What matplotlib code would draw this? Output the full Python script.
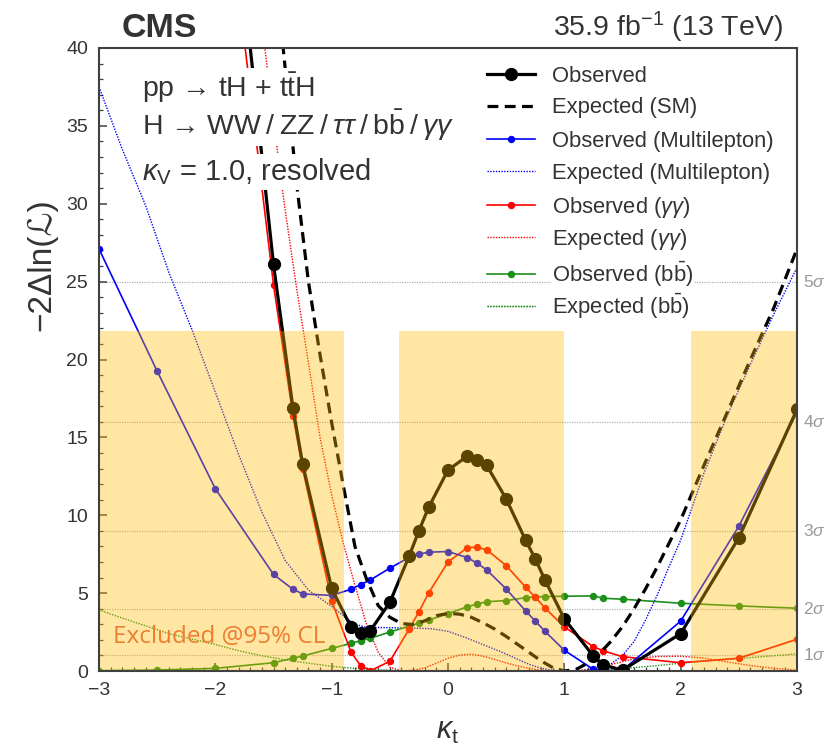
import matplotlib
matplotlib.use('Agg')
import matplotlib.pyplot as plt
from matplotlib.ticker import MultipleLocator

plt.rcParams['font.family'] = ['Liberation Sans', 'DejaVu Sans']
plt.rcParams['mathtext.fontset'] = 'custom'
plt.rcParams['mathtext.rm'] = 'Liberation Sans'
plt.rcParams['mathtext.it'] = 'Liberation Sans:italic'
plt.rcParams['mathtext.bf'] = 'Liberation Sans:bold'

# observed scans (points with markers)
obs_k = [-1.75, -1.5, -1.333, -1.25, -1.0, -0.833, -0.75, -0.667, -0.5, -0.333, -0.25, -0.167,
         0.0, 0.167, 0.25, 0.333, 0.5, 0.667, 0.75, 0.833, 1.0, 1.25, 1.333, 1.5, 2.0, 2.5, 3.0]
obs_v = [43.5, 26.1, 16.9, 13.3, 5.3, 2.8, 2.45, 2.6, 4.4, 7.4, 9.0, 10.5,
         12.9, 13.8, 13.55, 13.2, 11.05, 8.4, 7.2, 5.85, 3.35, 0.95, 0.4, 0.05, 2.4, 8.55, 16.8]

ml_k = [-3.0, -2.5, -2.0, -1.5, -1.333, -1.25, -1.0, -0.833, -0.75, -0.667, -0.5, -0.333, -0.25,
        -0.167, 0.0, 0.167, 0.25, 0.333, 0.5, 0.667, 0.75, 0.833, 1.0, 1.25, 1.333, 1.5, 2.0, 2.5, 3.0]
ml_v = [27.1, 19.25, 11.7, 6.2, 5.25, 4.95, 4.85, 5.25, 5.55, 5.85, 6.6, 7.3, 7.5,
        7.63, 7.67, 7.28, 6.92, 6.49, 5.27, 3.86, 3.21, 2.55, 1.33, 0.1, 0.02, 0.05, 3.2, 9.3, 16.6]

gg_k = [-1.75, -1.5, -1.333, -1.25, -1.0, -0.833, -0.75, -0.667, -0.5, -0.333, -0.25, -0.167,
        0.0, 0.167, 0.25, 0.333, 0.5, 0.667, 0.75, 0.833, 1.0, 1.25, 1.333, 1.5, 2.0, 2.5, 3.0]
gg_v = [40.4, 24.8, 16.4, 13.0, 4.5, 1.2, 0.34, 0.02, 0.62, 2.7, 3.8, 5.0,
        7.0, 7.92, 7.95, 7.78, 6.77, 5.38, 4.74, 4.05, 2.83, 1.56, 1.3, 0.92, 0.53, 0.82, 2.04]

bb_k = [-3.0, -2.5, -2.0, -1.5, -1.333, -1.25, -1.0, -0.833, -0.75, -0.667, -0.5, -0.333, -0.25,
        -0.167, 0.0, 0.167, 0.25, 0.333, 0.5, 0.667, 0.75, 0.833, 1.0, 1.25, 1.333, 1.5, 2.0, 2.5, 3.0]
bb_v = [0.02, 0.06, 0.17, 0.53, 0.82, 0.96, 1.45, 1.78, 1.95, 2.1, 2.5, 2.88, 3.08,
        3.27, 3.68, 4.13, 4.3, 4.45, 4.52, 4.71, 4.76, 4.78, 4.8, 4.82, 4.67, 4.61, 4.35, 4.18, 4.03]

# expected scans (lines only)
sm_k = [-1.45, -1.417, -1.3, -1.2, -1.1, -1.0, -0.9, -0.8, -0.7, -0.6, -0.5, -0.4, -0.3, -0.2, -0.1,
        0.0, 0.1, 0.2, 0.3, 0.4, 0.5, 0.6, 0.7, 0.8, 0.9, 1.0, 1.1, 1.2, 1.3, 1.4, 1.5, 1.6, 1.7,
        1.8, 1.9, 2.0, 2.2, 2.4, 2.6, 2.8, 3.0]
sm_v = [42.5, 40.0, 31.2, 25.0, 20.3, 15.95, 11.9, 8.0, 5.9, 4.2, 3.45, 3.05, 2.98, 3.22, 3.55,
        3.7, 3.65, 3.45, 3.1, 2.7, 2.22, 1.7, 1.18, 0.65, 0.22, 0.0, 0.1, 0.5, 1.1, 1.9, 2.85, 4.0, 5.3,
        6.7, 8.2, 9.7, 13.2, 16.6, 20.0, 23.3, 27.1]

ml_exp_k = [-3.0, -2.8, -2.6, -2.4, -2.2, -2.0, -1.8, -1.6, -1.4, -1.2, -1.0, -0.9, -0.8, -0.7,
            -0.5, -0.3, -0.15, 0.0, 0.15, 0.3, 0.45, 0.6, 0.7, 0.8, 0.9, 1.0, 1.1, 1.2, 1.3, 1.4,
            1.5, 1.6, 1.7, 1.8, 1.9, 2.0, 2.2, 2.4, 2.6, 2.8, 3.0]
ml_exp_v = [37.5, 33.5, 29.9, 25.6, 21.9, 17.9, 13.9, 10.2, 7.1, 5.2, 4.15, 3.55, 3.0, 2.8,
            2.78, 2.75, 2.72, 2.55, 2.15, 1.7, 1.25, 0.75, 0.42, 0.18, 0.04, 0.0, 0.0, 0.05, 0.18, 0.45,
            1.0, 1.9, 3.3, 4.9, 6.7, 8.4, 12.7, 16.4, 19.7, 22.9, 25.9]

gg_exp_k = [-1.6, -1.55, -1.5, -1.4, -1.3, -1.2, -1.1, -1.0, -0.9, -0.8, -0.7, -0.6, -0.5, -0.4,
            -0.3, -0.2, -0.1, 0.0, 0.1, 0.2, 0.3, 0.4, 0.5, 0.6, 0.7, 0.8, 0.9, 1.1, 1.2, 1.3, 1.45,
            1.6, 1.8, 2.0, 2.2, 2.4, 2.6, 2.8, 3.0]
gg_exp_v = [41.5, 38.5, 35.3, 29.6, 24.5, 19.8, 15.0, 11.3, 8.2, 5.5, 3.0, 1.2, 0.25, 0.0,
            0.05, 0.2, 0.5, 0.82, 1.02, 1.08, 0.95, 0.75, 0.52, 0.32, 0.17, 0.05, 0.0, 0.02, 0.1, 0.25, 0.5,
            0.78, 0.93, 0.95, 0.83, 0.58, 0.35, 0.17, 0.06]

bb_exp_k = [-3.0, -2.8, -2.6, -2.4, -2.2, -2.0, -1.8, -1.6, -1.4, -1.2, -1.0, -0.8, -0.6, -0.4,
            -0.2, 1.0, 1.2, 1.4, 1.6, 1.8, 2.0, 2.25, 2.5, 2.75, 3.0]
bb_exp_v = [3.92, 3.4, 2.9, 2.4, 2.05, 1.7, 1.3, 0.98, 0.72, 0.5, 0.3, 0.17, 0.08, 0.02,
            0.0, 0.0, 0.02, 0.1, 0.22, 0.35, 0.5, 0.66, 0.8, 0.95, 1.1]

# excluded regions at 95% CL
excl_lo = [-3.0, -0.42, 2.085]
excl_hi = [-0.893, 1.0, 3.0]
excl_top = 21.85

sigma_levels = [1, 4, 9, 16, 25]
sigma_labels = [r'1$\sigma$', r'2$\sigma$', r'3$\sigma$', r'4$\sigma$', r'5$\sigma$']

legend_labels = ['Observed', 'Expected (SM)', 'Observed (Multilepton)', 'Expected (Multilepton)',
                 r'Observed ($\gamma\gamma$)', r'Expected ($\gamma\gamma$)',
                 r'Observed (b$\bar{\rm b}$)', r'Expected (b$\bar{\rm b}$)']

blue = '#0000ff'
red = '#ff0000'
green = '#1a8f1a'
txt = '#333333'

fig = plt.figure(figsize=(8.27, 7.5), dpi=100)
ax = fig.add_axes([99 / 827, 79 / 750, 698 / 827, 623 / 750])

for lev, lab in zip(sigma_levels, sigma_labels):
    ax.axhline(lev, color='#b0b0b0', lw=0.9, ls=(0, (1, 1)), zorder=1)
    ax.text(1.008, lev, lab, transform=ax.get_yaxis_transform(), color='#999999',
            fontsize=12.5, ha='left', va='center')

h_bbe, = ax.plot(bb_exp_k, bb_exp_v, color=green, lw=1.0, ls=(0, (1, 1)), zorder=2)
h_gge, = ax.plot(gg_exp_k, gg_exp_v, color=red, lw=1.0, ls=(0, (1, 1)), zorder=2)
h_mle, = ax.plot(ml_exp_k, ml_exp_v, color=blue, lw=1.0, ls=(0, (1, 1)), zorder=2)
h_bb, = ax.plot(bb_k, bb_v, color=green, lw=1.2, marker='o', ms=4.3, zorder=3)
h_gg, = ax.plot(gg_k, gg_v, color=red, lw=1.2, marker='o', ms=4.3, zorder=3)
h_ml, = ax.plot(ml_k, ml_v, color=blue, lw=1.2, marker='o', ms=4.3, zorder=3)
h_sm, = ax.plot(sm_k, sm_v, color='black', lw=2.3, ls=(0, (3.4, 2.0)), zorder=4)
h_obs, = ax.plot(obs_k, obs_v, color='black', lw=2.3, marker='o', ms=8.5, zorder=4)

# translucent yellow boxes on top of the curves
ax.bar(excl_lo, [excl_top] * len(excl_lo), width=[h - l for l, h in zip(excl_lo, excl_hi)],
       align='edge', color=(1.0, 0.73, 0.0), alpha=0.36, lw=0, zorder=5)

ax.text(0.02, 1.8, 'Excluded @95% CL', transform=ax.get_yaxis_transform(),
        family='Open Sans', fontsize=17.5, color='#ED7D31', ha='left', va='baseline', zorder=6)

ax.set_xlim(-3, 3)
ax.set_ylim(0, 40)
ax.xaxis.set_major_locator(MultipleLocator(1))
ax.xaxis.set_minor_locator(MultipleLocator(0.1))
ax.yaxis.set_major_locator(MultipleLocator(5))
ax.yaxis.set_minor_locator(MultipleLocator(1))
ax.tick_params(which='both', direction='in', top=False, right=False, colors='#404040',
               labelcolor=txt, labelsize=14)
ax.tick_params(which='major', length=6, width=1.1, pad=8)
ax.tick_params(which='minor', length=3, width=0.9)
for sp in ax.spines.values():
    sp.set_color('#404040')
    sp.set_linewidth(1.5)
    sp.set_zorder(9)

ax.set_xlabel(r'$\kappa_{\rm t}$', fontsize=22, color=txt)
ax.xaxis.set_label_coords(0.5, -0.072)
ax.set_ylabel('\u22122\u0394ln(\u2112)', fontsize=24, color=txt)
ax.yaxis.set_label_coords(-0.06, 0.652)

box = dict(facecolor='white', edgecolor='none', pad=2)
ax.text(0.0616, 0.936, 'pp \u2192 tH + t$\\bar{\\rm t}$H', transform=ax.transAxes,
        fontsize=20.5, color=txt, ha='left', va='center', bbox=box, zorder=7)
ax.text(0.0616, 0.876,
        'H \u2192 WW$\\:/\\:$ZZ$\\:/\\:\\tau\\tau\\:/\\:$b$\\bar{\\rm b}\\:/\\:\\gamma\\gamma$',
        transform=ax.transAxes, fontsize=20.5, color=txt, ha='left', va='center', bbox=box, zorder=7)
ax.text(0.0616, 0.801, r'$\kappa_{\rm V}$ = 1.0, resolved', transform=ax.transAxes,
        fontsize=21, color=txt, ha='left', va='center', bbox=box, zorder=7)

fig.text(122 / 827, 1 - 37 / 750, 'CMS', fontsize=24.5, fontweight='bold', color=txt,
         ha='left', va='baseline')
fig.text(783 / 827, 1 - 36 / 750, r'35.9 fb$^{-1}$ (13 TeV)', fontsize=20.5, color=txt,
         ha='right', va='baseline')

# one legend per row so the rows are evenly spaced
handles = [h_obs, h_sm, h_ml, h_mle, h_gg, h_gge, h_bb, h_bbe]
row_px = [76, 108, 141, 173, 207, 239, 274, 306]
for h, lab, y in zip(handles, legend_labels, row_px):
    leg = ax.legend([h], [lab], loc='center left', bbox_to_anchor=(0.556, (671 - y) / 623),
                    frameon=False, fontsize=15.8, handlelength=2.2, handletextpad=0.75,
                    borderpad=0, borderaxespad=0)
    leg.set_zorder(8)
    for t in leg.get_texts():
        t.set_color(txt)
        t.set_bbox(dict(facecolor='white', edgecolor='none', pad=1))
    ax.add_artist(leg)

fig.savefig('out.png', dpi=100)
